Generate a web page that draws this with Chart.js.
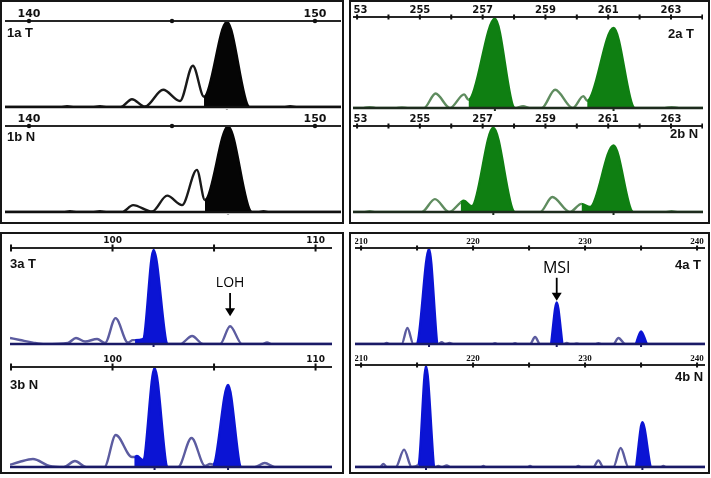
<!DOCTYPE html>
<html>
<head>
<meta charset="utf-8">
<script src="https://cdn.jsdelivr.net/npm/chart.js@4.4.1/dist/chart.umd.min.js"></script>
<style>
  body { margin: 0; background: #fff; }
  #fig { position: relative; width: 711px; height: 478px; overflow: hidden; background: #fff; }
  .panel { position: absolute; box-sizing: border-box; border: 2px solid #161616; background: #fff; }
  canvas { position: absolute; }
  .lbl { position: absolute; font: bold 13px "Liberation Sans", Arial, sans-serif; color: #111; line-height: 13px; white-space: nowrap; }
</style>
</head>
<body>
<div id="fig">
  <div class="panel" style="left:0;top:0;width:344px;height:224px"></div>
  <div class="panel" style="left:349px;top:0;width:361px;height:224px"></div>
  <div class="panel" style="left:0;top:232px;width:344px;height:242px"></div>
  <div class="panel" style="left:349px;top:232px;width:361px;height:242px"></div>

  <canvas id="c1a"></canvas><canvas id="c1b"></canvas>
  <canvas id="c2a"></canvas><canvas id="c2b"></canvas>
  <canvas id="c3a"></canvas><canvas id="c3b"></canvas>
  <canvas id="c4a"></canvas><canvas id="c4b"></canvas>

  <div class="lbl" style="left:7px;top:26px">1a T</div>
  <div class="lbl" style="left:7px;top:130px">1b N</div>
  <div class="lbl" style="left:668px;top:27px">2a T</div>
  <div class="lbl" style="left:670px;top:127px">2b N</div>
  <div class="lbl" style="left:10px;top:257px">3a T</div>
  <div class="lbl" style="left:10px;top:378px">3b N</div>
  <div class="lbl" style="left:675px;top:258px">4a T</div>
  <div class="lbl" style="left:675px;top:370px">4b N</div>
</div>

<script>
// ---- axis ticks / labels (base pairs) ----
const tick1 = [140, 145, 150];
const lab1 = [140, 150];
const tick2 = [253, 254, 255, 256, 257, 258, 259, 260, 261, 262, 263, 264];
const lab2 = [253, 255, 257, 259, 261, 263];
const tick3 = [95, 100, 105, 110];
const lab3 = [100, 110];
const tick4 = [210, 215, 220, 225, 230, 235, 240];
const lab4 = [210, 220, 230, 240];

// ---- traces: size (bp) and signal height (% of full scale) ----
// 1a / 1b
const s1aX = [139.16, 141.1, 141.33, 141.6, 142.2, 142.48, 142.75, 143.2, 143.6, 144.05, 144.69, 145.28, 145.73, 146.12, 146.92, 147.72, 148.9, 149.13, 149.4, 150.91];
const s1aY = [0, 0, 1, 0, 0, 1, 0, 0, 9, 0.5, 20, 7, 48, 12, 99, 0, 0, 1, 0, 0];
const s1aFill = [[146.12, 147.72]];
const s1bX = [139.16, 141.2, 141.43, 141.7, 142.2, 142.48, 142.75, 143.25, 143.64, 144.3, 144.83, 145.35, 145.87, 146.15, 146.96, 147.8, 148.0, 148.2, 148.4, 150.91];
const s1bY = [0, 0, 1, 0, 0, 1, 0, 0, 8, 0.5, 19, 8, 49, 14, 99.5, 0, 0, 1, 0, 0];
const s1bFill = [[146.15, 147.8]];

// 2a / 2b
const s2aX = [252.87, 253.2, 253.4, 253.6, 254.2, 254.43, 254.65, 255.13, 255.5, 255.96, 256.41, 256.55, 257.39, 258.03, 258.29, 258.5, 258.88, 259.31, 259.87, 260.21, 260.33, 261.17, 261.85, 262.8, 263.02, 263.25, 264.02];
const s2aY = [0, 0, 1, 0, 0, 0.6, 0, 0, 16, 0, 15, 9, 98, 0, 2, 0, 0, 20, 0, 13, 8, 88, 0, 0, 1, 0, 0];
const s2aFill = [[256.55, 258.03], [260.33, 261.85]];
const s2bX = [252.87, 253.2, 253.4, 253.6, 255.06, 255.48, 255.93, 256.3, 256.4, 256.65, 257.34, 258.03, 258.83, 259.22, 259.78, 260.15, 260.42, 261.17, 261.8, 262.8, 263.02, 263.25, 264.02];
const s2bY = [0, 0, 1, 0, 0, 15, 0, 11, 13, 6.6, 98, 0, 0, 17.4, 0, 9.5, 5.8, 77.5, 0, 0, 1, 0, 0];
const s2bFill = [[256.3, 258.03], [260.15, 261.8]];

// 3a / 3b
const s3aX = [94.95, 95.44, 96.08, 96.67, 97.8, 98.2, 98.65, 99.24, 99.63, 100.15, 100.76, 101.0, 101.11, 101.5, 102.02, 102.73, 103.33, 103.92, 104.46, 105.3, 105.79, 106.38, 107.36, 107.61, 107.86, 110.81];
const s3aY = [6.3, 4.2, 1.5, 0, 1, 6.3, 2.6, 5.2, 1, 27, 1.5, 4, 4, 5, 98, 0, 0, 8.3, 0, 0, 18.5, 0, 0, 1.5, 0, 0];
const s3aFill = [[101.11, 102.73]];
const s3bX = [94.95, 95.4, 96.08, 96.9, 97.6, 98.15, 98.7, 99.6, 100.16, 100.96, 101.07, 101.2, 101.5, 102.07, 102.73, 103.23, 103.89, 104.56, 104.8, 104.95, 105.69, 106.35, 107.0, 107.5, 108.0, 110.81];
const s3bY = [2.3, 5, 8, 1, 0, 6, 0, 0, 32, 10, 10, 11, 7, 99, 0, 0, 29, 1, 3, 2.5, 82, 0, 0, 4, 0, 0];
const s3bFill = [[101.07, 102.73], [104.95, 106.35]];

// 4a / 4b
const s4aX = [209.46, 212.0, 212.29, 212.6, 213.63, 214.14, 214.67, 214.97, 216.07, 216.9, 217.2, 217.5, 217.9, 218.3, 221.7, 221.96, 222.2, 223.5, 223.75, 224.0, 225.09, 225.54, 225.98, 226.88, 227.47, 228.07, 228.37, 228.7, 229.0, 229.26, 229.5, 230.9, 231.19, 231.5, 232.53, 232.98, 233.6, 234.46, 235.0, 235.6, 240.71];
const s4aY = [0, 0, 1, 0, 0, 16.7, 0, 0.5, 99, 0, 2, 0, 1, 0, 0, 0.8, 0, 0, 0.8, 0, 0, 7.3, 0, 0, 43.4, 0, 1, 0, 0, 0.6, 0, 0, 0.8, 0, 0, 6.3, 0, 0, 13.2, 0, 0];
const s4aFill = [[214.97, 216.9], [226.88, 228.07], [234.46, 235.6]];
const s4bX = [209.46, 211.7, 211.99, 212.3, 213.1, 213.84, 214.52, 215.12, 215.8, 216.61, 216.9, 217.2, 217.65, 218.0, 220.7, 220.92, 221.15, 224.85, 225.09, 225.35, 229.15, 229.4, 229.65, 230.74, 231.19, 231.63, 232.53, 233.18, 233.87, 234.46, 235.12, 235.95, 236.75, 236.99, 237.25, 240.71];
const s4bY = [0, 0, 3, 0, 0, 17, 0, 2, 99, 0, 1, 0, 1.5, 0, 0, 1, 0, 0, 1, 0, 0, 1, 0, 0, 6.5, 0, 0, 18.6, 0, 0, 43.8, 0, 0, 1, 0, 0];
const s4bFill = [[215.12, 216.61], [234.46, 235.95]];

// ---- styles ----
const black = { fill: "#050505", line: "#1a1a1a", base: "#111111" };
const green = { fill: "#0f7f12", line: "#5f8c5f", base: "#1d2b1d" };
const blue = { fill: "#0b14d4", line: "#5c5ca0", base: "#1a1a66" };

const axis1 = { ticks: tick1, labels: lab1, mark: "dot", size: 2.2, font: 'bold 11px "DejaVu Sans"', gap: 4 };
const axis2 = { ticks: tick2, labels: lab2, mark: "bar", size: 2.5, font: 'bold 10px "DejaVu Sans"', gap: 4 };
const axis3 = { ticks: tick3, labels: lab3, mark: "bar", size: 3.5, font: 'bold 9px "DejaVu Sans"', gap: 5 };
const axis4 = { ticks: tick4, labels: lab4, mark: "bar", size: 2.5, font: 'bold 9px "Liberation Serif"', gap: 4 };

// layout of each trace on the page (axis line y, baseline y, left/right px)
const traces = [
  { id: "c1a", x: s1aX, y: s1aY, fill: s1aFill, st: black, ax: axis1, left: 5, right: 341, axisY: 21, baseY: 107, pad: 18, min: 139.16, max: 150.91 },
  { id: "c1b", x: s1bX, y: s1bY, fill: s1bFill, st: black, ax: axis1, left: 5, right: 341, axisY: 126, baseY: 212, pad: 16, min: 139.16, max: 150.91 },
  { id: "c2a", x: s2aX, y: s2aY, fill: s2aFill, st: green, ax: axis2, left: 353, right: 703, axisY: 17, baseY: 108, pad: 14, min: 252.87, max: 264.02 },
  { id: "c2b", x: s2bX, y: s2bY, fill: s2bFill, st: green, ax: axis2, left: 353, right: 703, axisY: 126, baseY: 212, pad: 15, min: 252.87, max: 264.02 },
  { id: "c3a", x: s3aX, y: s3aY, fill: s3aFill, st: blue, ax: axis3, left: 10, right: 332, axisY: 248, baseY: 344, pad: 14, min: 94.95, max: 110.81,
    note: { text: "LOH", x: 105.79, textY: 63.5, top: 53, tip: 29, font: '14px "Open Sans"' } },
  { id: "c3b", x: s3bX, y: s3bY, fill: s3bFill, st: blue, ax: axis3, left: 10, right: 332, axisY: 367, baseY: 467, pad: 18, min: 94.95, max: 110.81 },
  { id: "c4a", x: s4aX, y: s4aY, fill: s4aFill, st: blue, ax: axis4, left: 355, right: 705, axisY: 248, baseY: 344, pad: 14, min: 209.46, max: 240.71,
    note: { text: "MSI", x: 227.47, textY: 79, top: 69, tip: 45, font: '16px "Open Sans"' } },
  { id: "c4b", x: s4bX, y: s4bY, fill: s4bFill, st: blue, ax: axis4, left: 355, right: 705, axisY: 365, baseY: 467, pad: 16, min: 209.46, max: 240.71 },
];

function inFill(ranges, a, b) {
  return ranges.some((r) => a >= r[0] - 1e-6 && b <= r[1] + 1e-6);
}

// draws baseline, size axis and annotations for one trace
function tracePlugin(t) {
  return {
    id: "trace_" + t.id,
    afterDatasetsDraw(chart) {
      const ctx = chart.ctx;
      const xs = chart.scales.x;
      const ys = chart.scales.y;
      const area = chart.chartArea;
      const y0 = ys.getPixelForValue(0);
      ctx.save();

      // baseline
      ctx.strokeStyle = t.st.base;
      ctx.lineWidth = 2.5;
      ctx.beginPath();
      ctx.moveTo(area.left, y0);
      ctx.lineTo(area.right, y0);
      ctx.stroke();

      // bin markers under the called alleles
      ctx.fillStyle = t.st.base;
      t.fill.forEach((r) => {
        let best = r[0], top = -1;
        t.x.forEach((v, i) => {
          if (v >= r[0] && v <= r[1] && t.y[i] > top) { top = t.y[i]; best = v; }
        });
        const px = xs.getPixelForValue(best);
        if (t.ax.mark === "dot") {
          ctx.beginPath();
          ctx.arc(px, y0 + 4, 1.6, 0, Math.PI * 2);
          ctx.fill();
        } else {
          ctx.fillRect(px - 1, y0 + 1, 2, 4);
        }
      });

      // size axis along the top
      const ay = area.top;
      ctx.strokeStyle = "#262626";
      ctx.lineWidth = 2;
      ctx.beginPath();
      ctx.moveTo(area.left, ay);
      ctx.lineTo(area.right, ay);
      ctx.stroke();
      ctx.fillStyle = "#111";
      t.ax.ticks.forEach((v) => {
        const px = xs.getPixelForValue(v);
        if (t.ax.mark === "dot") {
          ctx.beginPath();
          ctx.arc(px, ay, t.ax.size, 0, Math.PI * 2);
          ctx.fill();
        } else {
          ctx.fillRect(px - 1, ay - t.ax.size, 2, t.ax.size * 2);
        }
      });
      ctx.font = t.ax.font;
      ctx.textAlign = "center";
      ctx.textBaseline = "alphabetic";
      t.ax.labels.forEach((v) => {
        ctx.fillText(String(v), xs.getPixelForValue(v), ay - t.ax.gap);
      });

      // LOH / MSI arrow
      if (t.note) {
        const n = t.note;
        const px = xs.getPixelForValue(n.x);
        ctx.fillStyle = "#000";
        ctx.font = n.font;
        ctx.textBaseline = "middle";
        ctx.fillText(n.text, px, ys.getPixelForValue(n.textY));
        const yt = ys.getPixelForValue(n.top);
        const yb = ys.getPixelForValue(n.tip);
        ctx.strokeStyle = "#000";
        ctx.lineWidth = 1.8;
        ctx.beginPath();
        ctx.moveTo(px, yt);
        ctx.lineTo(px, yb - 7);
        ctx.stroke();
        ctx.beginPath();
        ctx.moveTo(px - 5, yb - 8);
        ctx.lineTo(px + 5, yb - 8);
        ctx.lineTo(px, yb);
        ctx.closePath();
        ctx.fill();
      }
      ctx.restore();
    },
  };
}

traces.forEach((t) => {
  const canvas = document.getElementById(t.id);
  const top = t.axisY - t.pad;
  const height = t.baseY - top + 3;
  canvas.width = t.right - t.left;
  canvas.height = height;
  canvas.style.left = t.left + "px";
  canvas.style.top = top + "px";
  canvas.style.width = t.right - t.left + "px";
  canvas.style.height = height + "px";

  const points = t.x.map((v, i) => ({ x: v, y: t.y[i] }));
  const filled = (c) => inFill(t.fill, t.x[c.p0DataIndex], t.x[c.p1DataIndex]);

  new Chart(canvas, {
    type: "line",
    data: {
      datasets: [
        {
          data: points,
          borderColor: t.st.line,
          backgroundColor: "rgba(0,0,0,0)",
          borderWidth: 2.4,
          borderJoinStyle: "round",
          pointRadius: 0,
          cubicInterpolationMode: "monotone",
          fill: "origin",
          segment: {
            borderColor: (c) => (filled(c) ? t.st.fill : t.st.line),
            backgroundColor: (c) => (filled(c) ? t.st.fill : "rgba(0,0,0,0)"),
          },
        },
      ],
    },
    options: {
      responsive: false,
      animation: false,
      devicePixelRatio: 1,
      layout: { padding: { top: t.pad, bottom: 3, left: 0, right: 0 } },
      scales: {
        x: { type: "linear", min: t.min, max: t.max, display: false },
        y: { min: 0, max: 100, display: false },
      },
      plugins: { legend: { display: false }, tooltip: { enabled: false } },
    },
    plugins: [tracePlugin(t)],
  });
});
</script>
</body>
</html>
